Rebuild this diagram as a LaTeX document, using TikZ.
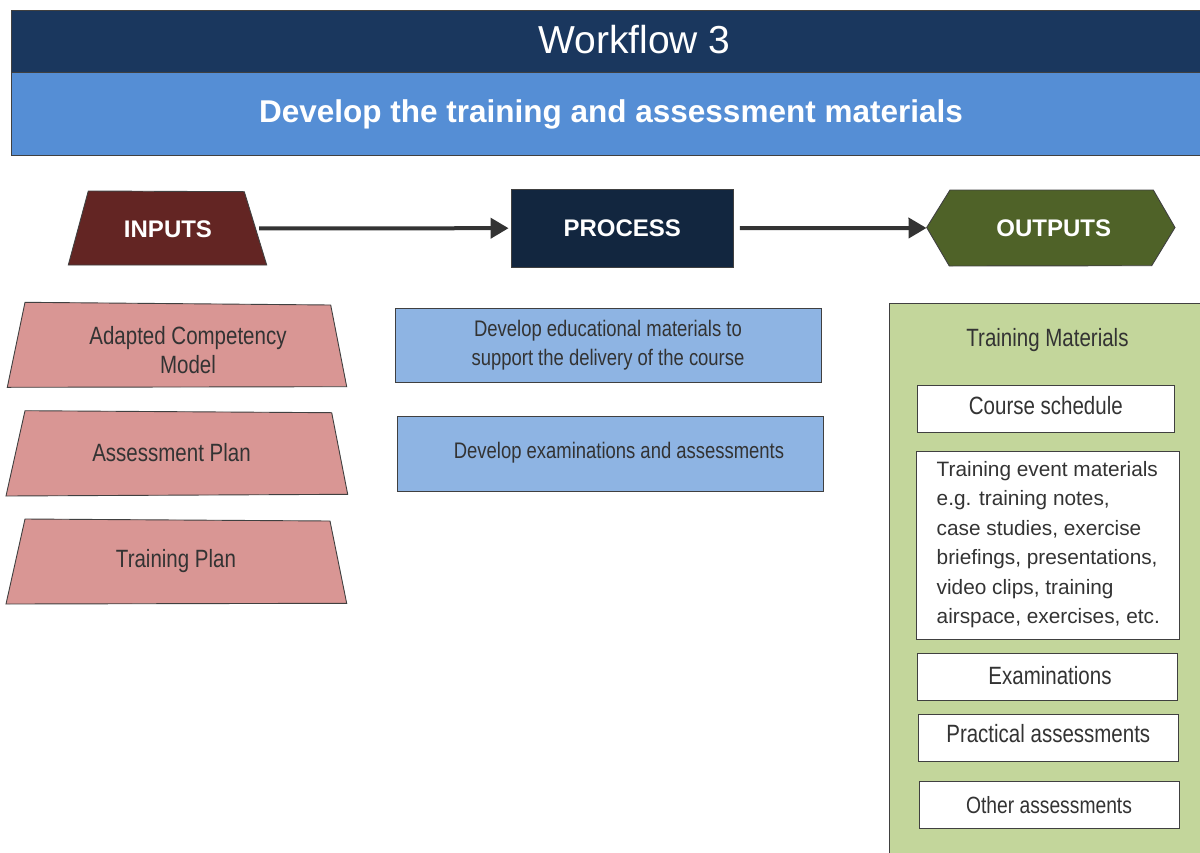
\documentclass[tikz,border=0pt]{standalone}
\usepackage{fontspec}
\setmainfont{Liberation Sans}
\newfontfamily\narrowfont[FakeStretch=0.82]{Liberation Sans}
\usetikzlibrary{arrows.meta}
\definecolor{hdrdark}{HTML}{1A375E}
\definecolor{hdrlight}{HTML}{558ED5}
\definecolor{inred}{HTML}{632523}
\definecolor{procnavy}{HTML}{12263F}
\definecolor{outgreen}{HTML}{4F6228}
\definecolor{inpink}{HTML}{D99694}
\definecolor{procblue}{HTML}{8EB4E3}
\definecolor{boxgreen}{HTML}{C3D69B}
\definecolor{edgegray}{HTML}{404040}
\definecolor{textgray}{HTML}{333333}
\definecolor{arrowgray}{HTML}{333333}
\begin{document}
\begin{tikzpicture}[x=1pt,y=-1pt,
  shapeedge/.style={draw=edgegray, line width=0.9pt},
  headtext/.style={text=white, font=\bfseries\fontsize{24}{28}\selectfont, inner sep=0pt, text height=17.2pt, text depth=0pt},
  itemtext/.style={text=textgray, font=\narrowfont\fontsize{25}{29}\selectfont, inner sep=0pt},
  proctext/.style={text=textgray, font=\narrowfont\fontsize{22.5}{29}\selectfont, inner sep=0pt},
  flow/.style={draw=arrowgray, line width=4pt, -{Triangle[length=18pt,width=20pt]}},
  whitebox/.style={shapeedge, fill=white, rectangle},
  ]
\useasboundingbox (0,0) rectangle (1200,852);

% header
\node[shapeedge, fill=hdrdark, rectangle, anchor=north west, minimum width=1195pt, minimum height=62.5pt, inner sep=0pt] (band1) at (11,10) {};
\node[shapeedge, fill=hdrlight, rectangle, anchor=north west, minimum width=1195pt, minimum height=83pt, inner sep=0pt] (band2) at (11,72.3) {};
\node[text=white, font=\fontsize{39}{44}\selectfont, anchor=base, inner sep=0pt] (title) at (634.5,53) {Workflow 3};
\node[text=white, font=\bfseries\fontsize{31.5}{36}\selectfont, anchor=base, inner sep=0pt] (subtitle) at (611,122.7) {Develop the training and assessment materials};

% INPUTS
\path[shapeedge, fill=inred] (88.3,191) -- (244.3,191.7) -- (266.7,265) -- (68.3,265) -- cycle;
\node[headtext, minimum width=182pt] (inputs) at (168,228.4) {INPUTS};

% PROCESS
\node[headtext, shapeedge, fill=procnavy, rectangle, minimum width=222.3pt, minimum height=78.3pt] (process) at (622.2,228.2) {PROCESS};

% OUTPUTS
\path[shapeedge, fill=outgreen] (926.7,227.5) -- (950,190) -- (1153.3,190) -- (1175,227.5) -- (1151.7,265.7) -- (949.3,266) -- cycle;
\node[headtext, minimum width=254pt] (outputs) at (1053.7,228) {OUTPUTS};

% arrows
\draw[flow, shorten >=2pt] (inputs.east) -- (process.west);
\draw[flow, shorten <=6pt] (process.east) -- (outputs.west);

% input items
\path[shapeedge, fill=inpink] (25,302.3) -- (330.7,305) -- (346.7,386.7) -- (7.3,387.3) -- cycle;
\path[shapeedge, fill=inpink] (25,410.7) -- (331.7,412.7) -- (347.7,494.3) -- (6,496) -- cycle;
\path[shapeedge, fill=inpink] (25,519) -- (330,521) -- (346.7,603.3) -- (6,604) -- cycle;
\node[itemtext, align=center] (in1) at (188,350.5) {Adapted Competency\\Model};
\node[itemtext, anchor=base] (in2) at (171.5,461.7) {Assessment Plan};
\node[itemtext, anchor=base] (in3) at (176,567) {Training Plan};

% process items
\node[proctext, shapeedge, fill=procblue, rectangle, align=center, minimum width=426pt, minimum height=74.4pt] (p1) at (608,345.5) {Develop educational materials to\\support the delivery of the course};
\node[proctext, shapeedge, fill=procblue, rectangle, minimum width=426pt, minimum height=75pt, text height=8.2pt, text depth=0pt] (p2) at (610.3,454.2) {\hspace*{17.4pt}Develop examinations and assessments};

% outputs container
\node[shapeedge, fill=boxgreen, rectangle, anchor=north west, minimum width=320pt, minimum height=560pt, inner sep=0pt] (outbox) at (889.3,303.3) {};
\node[itemtext, anchor=base] (tm) at (1047.5,346) {Training Materials};

\node[whitebox, itemtext, minimum width=256.3pt, minimum height=47pt, text height=10.2pt, text depth=0pt] (cs) at (1045.85,409.2) {Course schedule};
\node[whitebox, minimum width=263pt, minimum height=187.3pt, inner sep=0pt] (tembox) at (1047.5,545.35) {};
\node[text=textgray, font=\fontsize{20.8}{29.5}\selectfont, align=left, anchor=west, inner sep=0pt] (temtext) at (936.5,544.4) {Training event materials\\e.g. training notes,\\case studies, exercise\\briefings, presentations,\\video clips, training\\airspace, exercises, etc.};
\node[whitebox, itemtext, minimum width=260pt, minimum height=46.7pt, text height=15.3pt, text depth=0pt] (ex) at (1047.7,676.65) {\hspace*{4.6pt}Examinations};
\node[whitebox, itemtext, minimum width=260pt, minimum height=46.7pt, text height=9.3pt, text depth=0pt] (pa) at (1048.3,737.65) {Practical assessments};
\node[whitebox, itemtext, font=\narrowfont\fontsize{23.5}{28}\selectfont, minimum width=260pt, minimum height=46.6pt, text height=16.6pt, text depth=0pt] (oa) at (1049,805) {Other assessments};
\end{tikzpicture}
\end{document}
